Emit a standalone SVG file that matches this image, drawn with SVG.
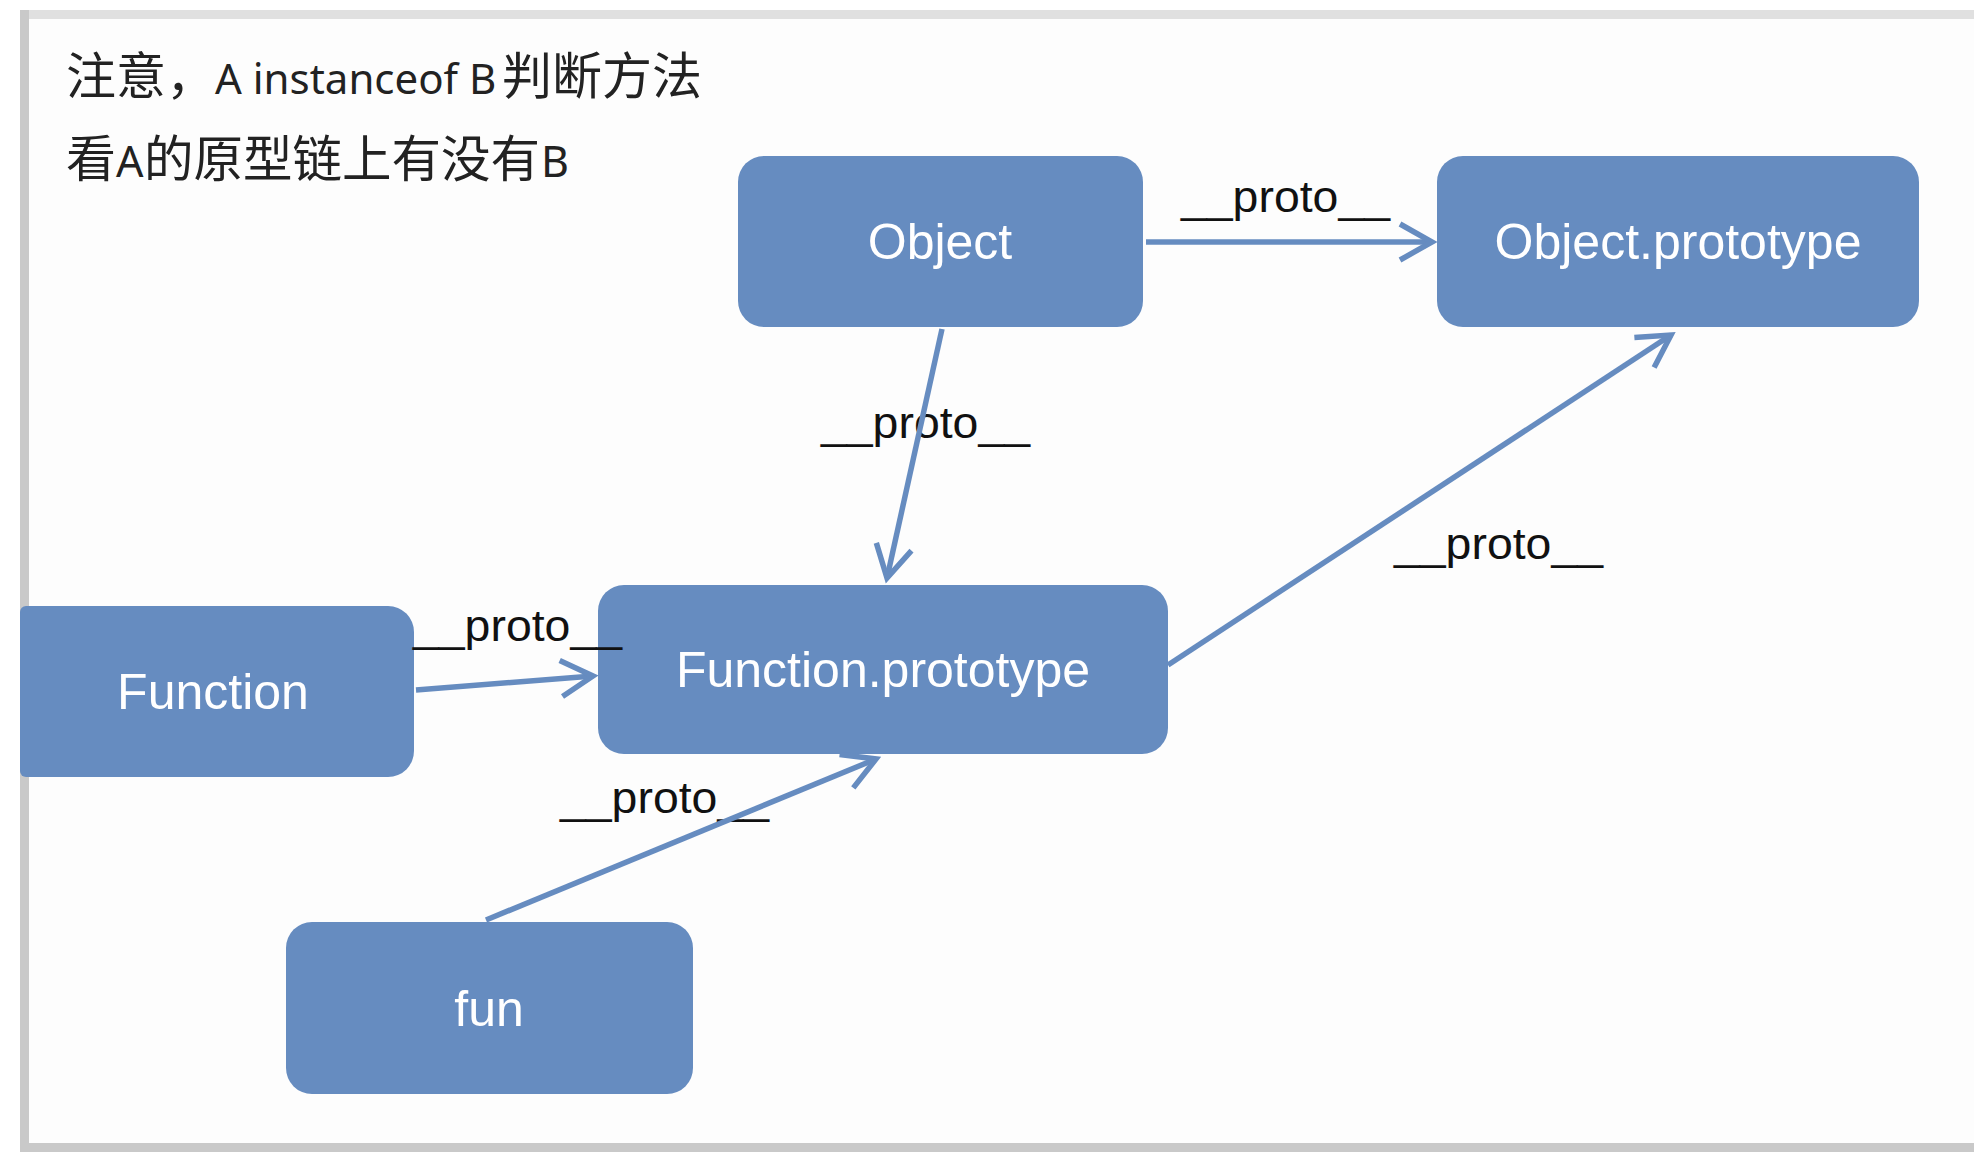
<svg xmlns="http://www.w3.org/2000/svg" width="1974" height="1166" viewBox="0 0 1974 1166">
<style>
.node{fill:#668cc0;}
.nlabel{font-family:"Liberation Sans",Arial,sans-serif;font-size:50px;fill:#ffffff;text-anchor:middle;}
.elabel{font-family:"Liberation Sans",Arial,sans-serif;font-size:44px;fill:#111111;}
.edge{fill:none;stroke:#668cc0;stroke-width:5.5;marker-end:url(#arr);}
.title{fill:#222222;}
.cjk{font-family:"Noto Sans CJK SC",sans-serif;}
.lat{font-family:"Noto Sans","Open Sans",sans-serif;}
</style>
<defs>
<marker id="arr" markerUnits="userSpaceOnUse" markerWidth="60" markerHeight="60" viewBox="-45 -30 55 60" refX="0" refY="0" orient="auto" overflow="visible">
<path d="M-32,-18 L0,0 L-32,18" fill="none" stroke="#668cc0" stroke-width="5.5"/>
</marker>
</defs>
<rect x="0" y="0" width="1974" height="1166" fill="#ffffff"/>
<rect x="20" y="19" width="1954" height="1124" fill="#fdfdfd"/>
<rect x="20" y="10" width="1954" height="9" fill="#e0e0e0"/>
<rect x="20" y="1143" width="1954" height="9" fill="#c9c9c9"/>
<rect x="20" y="10" width="9" height="1142" fill="#c9c9c9"/>

<g id="title" class="title">
<text y="94"><tspan class="cjk" x="66" font-size="50">注意，</tspan><tspan class="lat" x="215" font-size="42">A instanceof B</tspan><tspan class="cjk" x="502" font-size="50">判断方法</tspan></text>
<text y="177"><tspan class="cjk" x="66" font-size="50">看</tspan><tspan class="lat" x="116" font-size="43">A</tspan><tspan class="cjk" x="144" font-size="49.5">的原型链上有没有</tspan><tspan class="lat" x="541" font-size="43">B</tspan></text>
</g>

<g id="node-object">
<rect class="node" x="738" y="156" width="405" height="171" rx="26" ry="26"/>
<text class="nlabel" x="940" y="259">Object</text>
</g>
<g id="node-object-prototype">
<rect class="node" x="1437" y="156" width="482" height="171" rx="26" ry="26"/>
<text class="nlabel" x="1678" y="259">Object.prototype</text>
</g>
<g id="node-function">
<path class="node" d="M26,606 H388 A26,26 0 0 1 414,632 V751 A26,26 0 0 1 388,777 H26 A6,6 0 0 1 20,771 V612 A6,6 0 0 1 26,606 Z"/>
<text class="nlabel" x="213" y="709">Function</text>
</g>
<g id="node-function-prototype">
<rect class="node" x="598" y="585" width="570" height="169" rx="26" ry="26"/>
<text class="nlabel" x="883" y="687">Function.prototype</text>
</g>
<g id="node-fun">
<rect class="node" x="286" y="922" width="407" height="172" rx="26" ry="26"/>
<text class="nlabel" x="489" y="1026">fun</text>
</g>

<g id="connectors">
<text class="elabel" x="1181" y="212" textLength="209" lengthAdjust="spacingAndGlyphs">__proto__</text>
<text class="elabel" x="821" y="438" textLength="209" lengthAdjust="spacingAndGlyphs">__proto__</text>
<text class="elabel" x="1394" y="559" textLength="209" lengthAdjust="spacingAndGlyphs">__proto__</text>
<text class="elabel" x="413" y="641" textLength="209" lengthAdjust="spacingAndGlyphs">__proto__</text>
<text class="elabel" x="560" y="813" textLength="209" lengthAdjust="spacingAndGlyphs">__proto__</text>
<path class="edge" d="M1146,242 L1432,242"/>
<path class="edge" d="M942,329 L887,578"/>
<path class="edge" d="M1168,665 L1671,335"/>
<path class="edge" d="M416,690 L593,676"/>
<path class="edge" d="M486,920 L876,759"/>
</g>
</svg>
